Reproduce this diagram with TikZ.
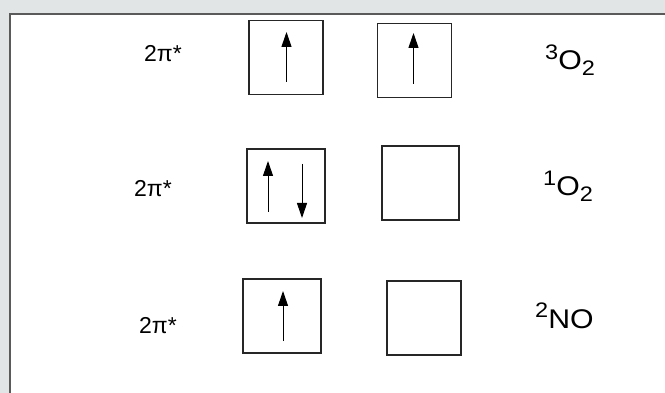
\documentclass[tikz,border=0pt]{standalone}
\usepackage{fontspec}
\setmainfont{Liberation Sans}
\usetikzlibrary{arrows.meta}
\definecolor{bggray}{HTML}{E1E5E5}
\definecolor{framegray}{HTML}{5A5A5A}
\tikzset{
  orb/.style={draw=black!85, line width=1.1pt, inner sep=0pt},
  lbl/.style={font=\fontsize{23}{27}\selectfont, inner sep=0pt, anchor=base west},
  mol/.style={font=\fontsize{27}{31}\selectfont, inner sep=0pt, anchor=base west, xscale=1.12},
  spin/.style={line width=1pt, -{Triangle[length=15pt,width=10pt]}},
}
\newcommand{\sps}[1]{\raisebox{0.38em}{\fontsize{21}{24}\selectfont #1}}
\newcommand{\sbs}[1]{\raisebox{-0.2em}{\fontsize{21}{24}\selectfont #1}}
\begin{document}
\begin{tikzpicture}[x=1pt,y=-1pt]
\useasboundingbox (0,0) rectangle (665,393);
\fill[bggray] (0,0) rectangle (665,393);
\fill[white] (10,14) rectangle (665,393);
\draw[framegray, line width=1.6pt] (10,393) -- (10,14) -- (665,14);
% row 1
\node[lbl] (l1) at (144,62) {2π*};
\node[orb, minimum width=74pt, minimum height=74pt] (b11) at (286,57.5) {};
\node[orb, minimum width=74pt, minimum height=74pt] (b12) at (414.5,60.5) {};
\node[mol] (m1) at (545,70) {\sps{3}O\sbs{2}};
\coordinate (a11s) at (286.5,82);
\coordinate (a11e) at (286.5,32);
\draw[spin] (a11s) -- (a11e);
\coordinate (a12s) at (413.5,84);
\coordinate (a12e) at (413.5,33);
\draw[spin] (a12s) -- (a12e);
% row 2
\node[lbl] (l2) at (134,197) {2π*};
\node[orb, minimum width=78pt, minimum height=74pt] (b21) at (286,186) {};
\node[orb, minimum width=77pt, minimum height=74pt] (b22) at (420.5,183) {};
\node[mol] (m2) at (543,196) {\sps{1}O\sbs{2}};
\coordinate (a21s) at (268,212);
\coordinate (a21e) at (268,161);
\draw[spin] (a21s) -- (a21e);
\coordinate (a22s) at (302,164);
\coordinate (a22e) at (302,218);
\draw[spin] (a22s) -- (a22e);
% row 3
\node[lbl] (l3) at (139,334) {2π*};
\node[orb, minimum width=78pt, minimum height=74pt] (b31) at (282,316) {};
\node[orb, minimum width=74pt, minimum height=74pt] (b32) at (424,318) {};
\node[mol] (m3) at (535,328) {\sps{2}NO};
\coordinate (a31s) at (283,341);
\coordinate (a31e) at (283,291);
\draw[spin] (a31s) -- (a31e);
\end{tikzpicture}
\end{document}
